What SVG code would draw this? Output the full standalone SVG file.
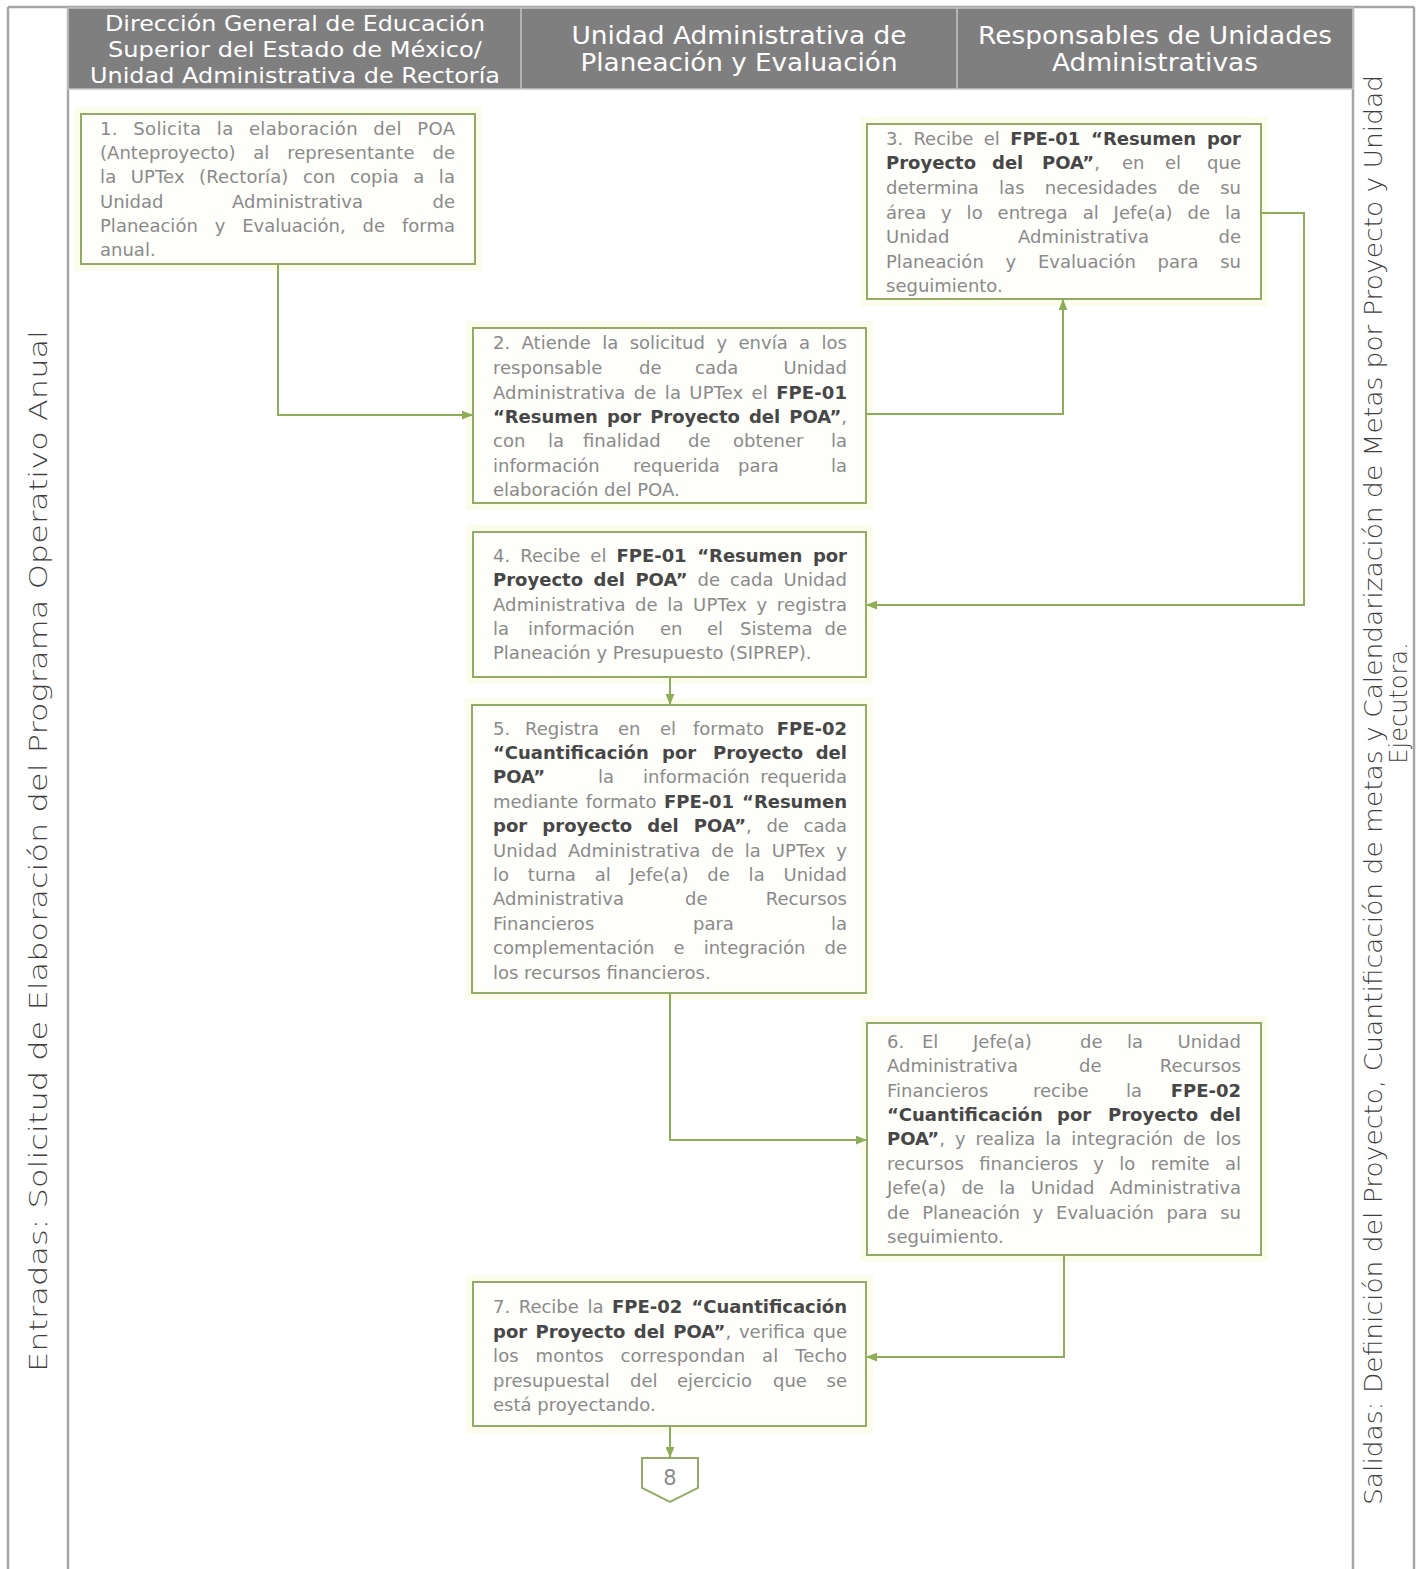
<svg xmlns="http://www.w3.org/2000/svg" width="1417" height="1569" viewBox="0 0 1417 1569">
<style>
.frame{stroke:#a6a6a6;stroke-width:2.5;fill:none}
.hdr{fill:#7f7f7f;stroke:#c4c4c4;stroke-width:1.5}
.hdiv{stroke:#c4c4c4;stroke-width:1.5}
.ht{font-family:"DejaVu Sans","Liberation Sans",sans-serif;fill:#ffffff;text-anchor:middle}
.side{font-family:"DejaVu Sans","Liberation Sans",sans-serif;font-size:24px;fill:#3f3f3f;font-weight:200;text-anchor:middle}
.halo{fill:#fbfceb}
.box{fill:#fefefa;stroke:#94ab66;stroke-width:2}
.t{font-family:"DejaVu Sans","Liberation Sans",sans-serif;font-size:18px;fill:#8a8a8a}
.b{font-weight:bold;fill:#474747}
.e{text-anchor:end}
.conn{stroke:#8fac58;stroke-width:2;fill:none}
.off{fill:#ffffff;stroke:#94ab66;stroke-width:2}
.num{font-family:"DejaVu Sans","Liberation Sans",sans-serif;font-size:21px;fill:#8a8a8a;text-anchor:middle}
</style>
<defs>
<marker id="arr" viewBox="0 0 10 8" refX="10" refY="4" markerWidth="11" markerHeight="9" markerUnits="userSpaceOnUse" orient="auto">
<path d="M0,0 L10,4 L0,8 z" fill="#8fac58"/>
</marker>
</defs>

<g id="frame">
<line class="frame" x1="8" y1="7" x2="1414" y2="7"/>
<line class="frame" x1="8" y1="7" x2="8" y2="1569"/>
<line class="frame" x1="68" y1="7" x2="68" y2="1569"/>
<line class="frame" x1="1353" y1="7" x2="1353" y2="1569"/>
<line class="frame" x1="1414" y1="7" x2="1414" y2="1569"/>
</g>

<g id="header">
<rect class="hdr" x="68" y="8" width="1285" height="81"/>
<line class="hdiv" x1="521" y1="8" x2="521" y2="89"/>
<line class="hdiv" x1="957" y1="8" x2="957" y2="89"/>
<text class="ht" font-size="21" x="295" y="31" textLength="380" lengthAdjust="spacingAndGlyphs">Dirección General de Educación</text>
<text class="ht" font-size="21" x="295" y="57" textLength="374" lengthAdjust="spacingAndGlyphs">Superior del Estado de México/</text>
<text class="ht" font-size="21" x="295" y="83" textLength="410" lengthAdjust="spacingAndGlyphs">Unidad Administrativa de Rectoría</text>
<text class="ht" font-size="24" x="739" y="44" textLength="335" lengthAdjust="spacingAndGlyphs">Unidad Administrativa de</text>
<text class="ht" font-size="24" x="739" y="71" textLength="317" lengthAdjust="spacingAndGlyphs">Planeación y Evaluación</text>
<text class="ht" font-size="24" x="1155" y="44" textLength="354" lengthAdjust="spacingAndGlyphs">Responsables de Unidades</text>
<text class="ht" font-size="24" x="1155" y="71" textLength="206" lengthAdjust="spacingAndGlyphs">Administrativas</text>
</g>

<g id="entradas">
<text class="side" transform="translate(47,851) rotate(-90)" x="0" y="0" textLength="1042" lengthAdjust="spacingAndGlyphs">Entradas: Solicitud de Elaboración del Programa Operativo Anual</text>
</g>

<g id="salidas">
<text class="side" transform="translate(1382,790) rotate(-90)" x="0" y="0" textLength="1430" lengthAdjust="spacingAndGlyphs">Salidas: Definición del Proyecto, Cuantificación de metas y Calendarización de Metas por Proyecto y Unidad</text>
<text class="side" transform="translate(1407,703) rotate(-90)" x="0" y="0">Ejecutora.</text>
</g>

<g id="n1">
<rect class="halo" x="74" y="107" width="408" height="164"/>
<rect class="box" x="81" y="114" width="394" height="150"/>
<text class="t" x="100" y="135" word-spacing="9.4" textLength="355" lengthAdjust="spacing">1. Solicita la elaboración del POA</text>
<text class="t" x="100" y="159" word-spacing="12" textLength="355" lengthAdjust="spacing">(Anteproyecto) al representante de</text>
<text class="t" x="100" y="183" word-spacing="8.5" textLength="355" lengthAdjust="spacing">la UPTex (Rectoría) con copia a la</text>
<text class="t" y="207.5"><tspan x="100">Unidad</tspan><tspan x="232">Administrativa</tspan></text>
<text class="t e" x="455" y="207.5">de</text>
<text class="t" x="100" y="232" word-spacing="11.1" textLength="355" lengthAdjust="spacing">Planeación y Evaluación, de forma</text>
<text class="t" x="100" y="256">anual.</text>
</g>

<g id="n2">
<rect class="halo" x="466" y="321" width="407" height="189"/>
<rect class="box" x="473" y="328" width="393" height="175"/>
<text class="t" x="493" y="349" word-spacing="5.7" textLength="354" lengthAdjust="spacing">2. Atiende la solicitud y envía a los</text>
<text class="t" y="374"><tspan x="493">responsable</tspan><tspan x="639">de</tspan><tspan x="695">cada</tspan></text>
<text class="t e" x="847" y="374">Unidad</text>
<text class="t" x="493" y="399" word-spacing="2.5" textLength="354" lengthAdjust="spacing">Administrativa de la UPTex el <tspan class="b">FPE-01</tspan></text>
<text class="t" x="493" y="423" word-spacing="3" textLength="354" lengthAdjust="spacing"><tspan class="b">“Resumen por Proyecto del POA”</tspan>,</text>
<text class="t" y="447"><tspan x="493">con</tspan><tspan x="548">la</tspan><tspan x="583">finalidad</tspan><tspan x="688">de</tspan><tspan x="733">obtener</tspan></text>
<text class="t e" x="847" y="447">la</text>
<text class="t" y="472"><tspan x="493">información</tspan><tspan x="633">requerida</tspan><tspan x="738">para</tspan></text>
<text class="t e" x="847" y="472">la</text>
<text class="t" x="493" y="496">elaboración del POA.</text>
</g>

<g id="n3">
<rect class="halo" x="860" y="117" width="408" height="189"/>
<rect class="box" x="867" y="124" width="394" height="175"/>
<text class="t" x="886" y="145" word-spacing="4.7" textLength="355" lengthAdjust="spacing">3. Recibe el <tspan class="b">FPE-01 “Resumen por</tspan></text>
<text class="t" y="169"><tspan class="b" x="886">Proyecto</tspan><tspan class="b" x="992">del</tspan><tspan class="b" x="1042">POA”</tspan>,<tspan x="1122">en</tspan><tspan x="1165">el</tspan></text>
<text class="t e" x="1241" y="169">que</text>
<text class="t" x="886" y="194" word-spacing="14.5" textLength="355" lengthAdjust="spacing">determina las necesidades de su</text>
<text class="t" x="886" y="218.5" word-spacing="9.1" textLength="355" lengthAdjust="spacing">área y lo entrega al Jefe(a) de la</text>
<text class="t" y="242.5"><tspan x="886">Unidad</tspan><tspan x="1018">Administrativa</tspan></text>
<text class="t e" x="1241" y="242.5">de</text>
<text class="t" x="886" y="267.5" word-spacing="16" textLength="355" lengthAdjust="spacing">Planeación y Evaluación para su</text>
<text class="t" x="886" y="292">seguimiento.</text>
</g>

<g id="n4">
<rect class="halo" x="466" y="525" width="407" height="159"/>
<rect class="box" x="473" y="532" width="393" height="145"/>
<text class="t" x="493" y="562" word-spacing="4.5" textLength="354" lengthAdjust="spacing">4. Recibe el <tspan class="b">FPE-01 “Resumen por</tspan></text>
<text class="t" x="493" y="586" word-spacing="4.3" textLength="354" lengthAdjust="spacing"><tspan class="b">Proyecto del POA”</tspan> de cada Unidad</text>
<text class="t" x="493" y="611" word-spacing="3.7" textLength="354" lengthAdjust="spacing">Administrativa de la UPTex y registra</text>
<text class="t" y="635"><tspan x="493">la</tspan><tspan x="528">información</tspan><tspan x="660">en</tspan><tspan x="707">el</tspan><tspan x="740">Sistema</tspan></text>
<text class="t e" x="847" y="635">de</text>
<text class="t" x="493" y="659">Planeación y Presupuesto (SIPREP).</text>
</g>

<g id="n5">
<rect class="halo" x="465" y="698" width="408" height="302"/>
<rect class="box" x="472" y="705" width="394" height="288"/>
<text class="t" y="735"><tspan x="493">5.</tspan><tspan x="525">Registra</tspan><tspan x="618">en</tspan><tspan x="660">el</tspan><tspan x="693">formato</tspan></text>
<text class="t b e" x="847" y="735">FPE-02</text>
<text class="t b" y="759"><tspan x="493">“Cuantificación</tspan><tspan x="662">por</tspan><tspan x="713">Proyecto</tspan></text>
<text class="t b e" x="847" y="759">del</text>
<text class="t" y="783"><tspan class="b" x="493">POA”</tspan><tspan x="598">la</tspan><tspan x="643">información</tspan></text>
<text class="t e" x="847" y="783">requerida</text>
<text class="t" x="493" y="808" word-spacing="1.9" textLength="354" lengthAdjust="spacing">mediante formato <tspan class="b">FPE-01 “Resumen</tspan></text>
<text class="t" x="493" y="832" word-spacing="8.9" textLength="354" lengthAdjust="spacing"><tspan class="b">por proyecto del POA”</tspan>, de cada</text>
<text class="t" x="493" y="857" word-spacing="4.9" textLength="354" lengthAdjust="spacing">Unidad Administrativa de la UPTex y</text>
<text class="t" x="493" y="881" word-spacing="13.1" textLength="354" lengthAdjust="spacing">lo turna al Jefe(a) de la Unidad</text>
<text class="t" y="905"><tspan x="493">Administrativa</tspan><tspan x="685">de</tspan></text>
<text class="t e" x="847" y="905">Recursos</text>
<text class="t" y="930"><tspan x="493">Financieros</tspan><tspan x="693">para</tspan></text>
<text class="t e" x="847" y="930">la</text>
<text class="t" x="493" y="954" word-spacing="13.4" textLength="354" lengthAdjust="spacing">complementación e integración de</text>
<text class="t" x="493" y="979">los recursos financieros.</text>
</g>

<g id="n6">
<rect class="halo" x="860" y="1016" width="408" height="246"/>
<rect class="box" x="867" y="1023" width="394" height="232"/>
<text class="t" y="1048"><tspan x="887">6.</tspan><tspan x="922">El</tspan><tspan x="973">Jefe(a)</tspan><tspan x="1080">de</tspan><tspan x="1127">la</tspan></text>
<text class="t e" x="1241" y="1048">Unidad</text>
<text class="t" y="1072"><tspan x="887">Administrativa</tspan><tspan x="1079">de</tspan></text>
<text class="t e" x="1241" y="1072">Recursos</text>
<text class="t" y="1097"><tspan x="887">Financieros</tspan><tspan x="1033">recibe</tspan><tspan x="1126">la</tspan></text>
<text class="t b e" x="1241" y="1097">FPE-02</text>
<text class="t b" y="1121"><tspan x="887">“Cuantificación</tspan><tspan x="1057">por</tspan><tspan x="1108">Proyecto</tspan></text>
<text class="t b e" x="1241" y="1121">del</text>
<text class="t" x="887" y="1145" word-spacing="4.2" textLength="354" lengthAdjust="spacing"><tspan class="b">POA”</tspan>, y realiza la integración de los</text>
<text class="t" x="887" y="1170" word-spacing="9.5" textLength="354" lengthAdjust="spacing">recursos financieros y lo remite al</text>
<text class="t" x="887" y="1194" word-spacing="9.7" textLength="354" lengthAdjust="spacing">Jefe(a) de la Unidad Administrativa</text>
<text class="t" x="887" y="1219" word-spacing="7" textLength="354" lengthAdjust="spacing">de Planeación y Evaluación para su</text>
<text class="t" x="887" y="1243">seguimiento.</text>
</g>

<g id="n7">
<rect class="halo" x="466" y="1275" width="407" height="158"/>
<rect class="box" x="473" y="1282" width="393" height="144"/>
<text class="t" x="493" y="1313" word-spacing="2.9" textLength="354" lengthAdjust="spacing">7. Recibe la <tspan class="b">FPE-02 “Cuantificación</tspan></text>
<text class="t" x="493" y="1338" word-spacing="2" textLength="354" lengthAdjust="spacing"><tspan class="b">por Proyecto del POA”</tspan>, verifica que</text>
<text class="t" x="493" y="1362" word-spacing="11" textLength="354" lengthAdjust="spacing">los montos correspondan al Techo</text>
<text class="t" y="1387"><tspan x="493">presupuestal</tspan><tspan x="630">del</tspan><tspan x="677">ejercicio</tspan><tspan x="773">que</tspan></text>
<text class="t e" x="847" y="1387">se</text>
<text class="t" x="493" y="1411">está proyectando.</text>
</g>

<g id="n8">
<polygon class="off" points="642,1458 698,1458 698,1488 670,1502 642,1488"/>
<text class="num" x="670" y="1485">8</text>
</g>

<g id="connectors">
<polyline class="conn" points="278,264 278,415 473,415" marker-end="url(#arr)"/>
<polyline class="conn" points="866,414 1063,414 1063,299" marker-end="url(#arr)"/>
<polyline class="conn" points="1261,213 1304,213 1304,605 866,605" marker-end="url(#arr)"/>
<polyline class="conn" points="670,677 670,705" marker-end="url(#arr)"/>
<polyline class="conn" points="670,993 670,1140 867,1140" marker-end="url(#arr)"/>
<polyline class="conn" points="1064,1255 1064,1357 866,1357" marker-end="url(#arr)"/>
<polyline class="conn" points="670,1426 670,1458" marker-end="url(#arr)"/>
</g>
</svg>
